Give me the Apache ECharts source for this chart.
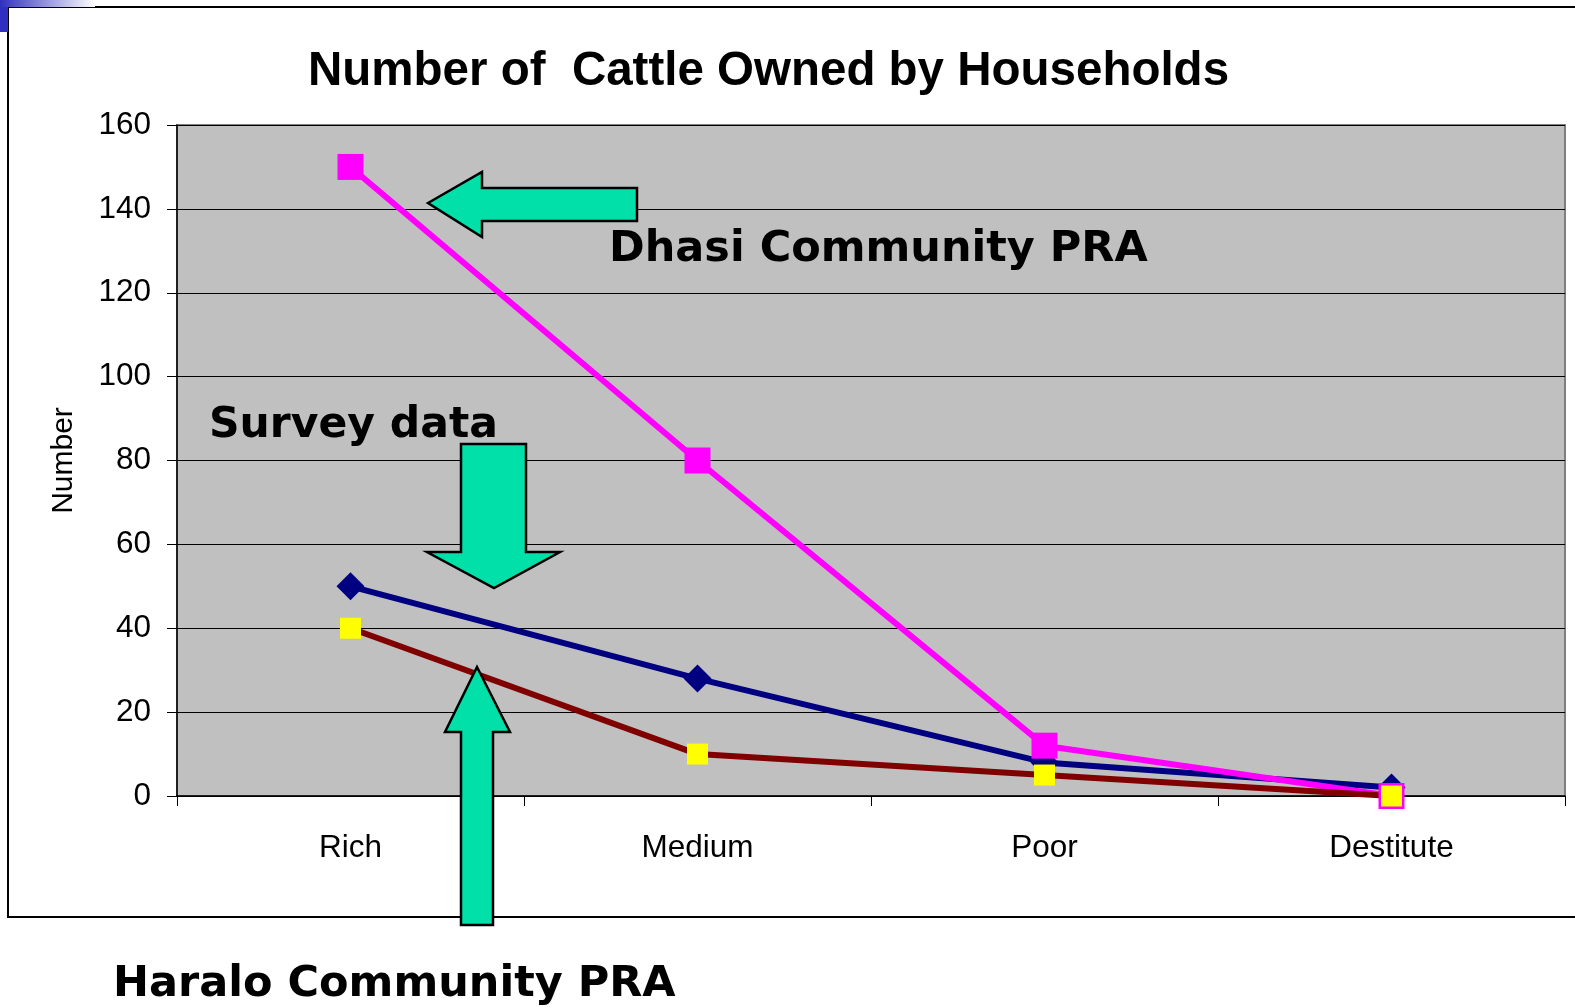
<!DOCTYPE html>
<html>
<head>
<meta charset="utf-8">
<title>Number of Cattle Owned by Households</title>
<script src="https://cdn.jsdelivr.net/npm/echarts@6/dist/echarts.min.js"></script>
<style>
  html, body { margin: 0; padding: 0; background: #fff; }
  #cattle { width: 1575px; height: 1007px; }
</style>
</head>
<body>
<div id="cattle"></div>
<script>
  const categories = ['Rich', 'Medium', 'Poor', 'Destitute'];
  const surveyData = [50, 28, 8, 2];
  const haraloPRA = [40, 10, 5, 0];
  const dhasiPRA = [150, 80, 12, 0];
  const yTicks = [0, 20, 40, 60, 80, 100, 120, 140, 160];

  const green = '#00e0a8';
  const arrowStyle = { fill: green, stroke: '#000', lineWidth: 2.5 };
  const noteFont = 'bold 43px "DejaVu Sans"';

  const myChart = echarts.init(document.getElementById('cattle'));
  myChart.setOption({
    animation: false,
    backgroundColor: '#fff',
    title: {
      text: 'Number of  Cattle Owned by Households',
      left: 303,
      top: 43,
      textStyle: {
        fontFamily: 'Liberation Sans',
        fontWeight: 'bold',
        fontSize: 47.5,
        color: '#000',
      },
    },
    grid: {
      left: 177,
      right: 10,
      top: 125,
      bottom: 211,
      show: true,
      backgroundColor: '#c0c0c0',
      borderColor: '#808080',
      borderWidth: 2,
    },
    xAxis: {
      type: 'category',
      data: categories,
      boundaryGap: true,
      axisLine: { lineStyle: { color: '#000', width: 1.5 } },
      axisTick: { show: true, length: 10, lineStyle: { color: '#000' } },
      axisLabel: {
        margin: 36,
        fontFamily: 'Liberation Sans',
        fontSize: 31.5,
        color: '#000',
      },
    },
    yAxis: {
      type: 'value',
      min: yTicks[0],
      max: yTicks[yTicks.length - 1],
      interval: 20,
      name: 'Number',
      nameLocation: 'middle',
      nameGap: 98,
      nameRotate: 90,
      nameTextStyle: {
        fontFamily: 'Liberation Sans',
        fontSize: 30,
        color: '#000',
      },
      axisLine: { show: true, lineStyle: { color: '#000', width: 1.5 } },
      axisTick: { show: true, length: 10, lineStyle: { color: '#000' } },
      axisLabel: {
        margin: 26,
        fontFamily: 'Liberation Sans',
        fontSize: 31.5,
        color: '#000',
      },
      splitLine: { show: true, lineStyle: { color: '#000', width: 1 } },
    },
    series: [
      {
        name: 'Survey data',
        type: 'line',
        data: surveyData,
        symbol: 'diamond',
        symbolSize: 28,
        lineStyle: { color: '#000080', width: 6 },
        itemStyle: { color: '#000080' },
      },
      {
        name: 'Dhasi Community PRA',
        type: 'line',
        data: dhasiPRA,
        symbol: 'rect',
        symbolSize: 26,
        lineStyle: { color: '#ff00ff', width: 6 },
        itemStyle: { color: '#ff00ff' },
      },
      {
        name: 'Haralo Community PRA',
        type: 'line',
        data: haraloPRA,
        symbol: 'rect',
        symbolSize: 21,
        lineStyle: { color: '#800000', width: 6 },
        itemStyle: { color: '#ffff00' },
      },
    ],
    graphic: [
      // slide frame and blue corner
      {
        type: 'rect',
        z: 0,
        shape: { x: 8, y: 7, width: 1620, height: 910 },
        style: { fill: 'none', stroke: '#000', lineWidth: 2 },
      },
      {
        type: 'rect',
        z: 1,
        shape: { x: 0, y: 0, width: 8, height: 32 },
        style: { fill: '#3030c0' },
      },
      {
        type: 'rect',
        z: 1,
        shape: { x: 0, y: 0, width: 95, height: 7 },
        style: {
          fill: new echarts.graphic.LinearGradient(0, 0, 1, 0, [
            { offset: 0, color: '#3030c0' },
            { offset: 1, color: '#ffffff' },
          ]),
        },
      },
      // arrows
      {
        type: 'polygon',
        z: 100,
        shape: {
          points: [[428, 203], [482, 172], [482, 188], [637, 188], [637, 221], [482, 221], [482, 237]],
        },
        style: arrowStyle,
      },
      {
        type: 'polygon',
        z: 100,
        shape: {
          points: [[461, 444], [526, 444], [526, 552], [560, 552], [494, 588], [427, 552], [461, 552]],
        },
        style: arrowStyle,
      },
      {
        type: 'polygon',
        z: 100,
        shape: {
          points: [[477, 667], [510, 732], [493, 732], [493, 925], [461, 925], [461, 732], [445, 732]],
        },
        style: arrowStyle,
      },
      // notes
      {
        type: 'text',
        z: 100,
        left: 609,
        top: 228,
        style: { text: 'Dhasi Community PRA', font: noteFont, fill: '#000' },
      },
      {
        type: 'text',
        z: 100,
        left: 209,
        top: 404,
        style: { text: 'Survey data', font: 'bold 42.5px "DejaVu Sans"', fill: '#000' },
      },
      {
        type: 'text',
        z: 100,
        left: 113,
        top: 963,
        style: { text: 'Haralo Community PRA', font: noteFont, fill: '#000' },
      },
    ],
  });
</script>
</body>
</html>
